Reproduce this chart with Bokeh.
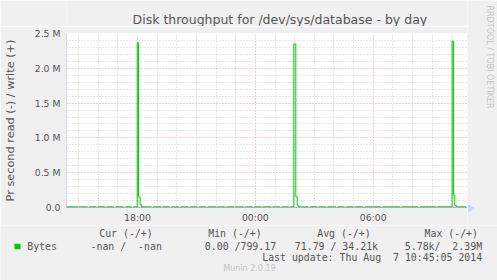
import math
from bokeh.plotting import figure
from bokeh.layouts import column, row
from bokeh.models import Range1d, FixedTicker
from bokeh.core.properties import value
from bokeh.embed import file_html
from bokeh.resources import INLINE

# ---- data (hours of day; values after 24 are next day) ----
title_text = "Disk throughput for /dev/sys/database - by day"
x_start, x_end = 14.385, 34.80
x_major = [18, 24, 30]
x_major_labels = ["18:00", "00:00", "06:00"]
x_minor = [15, 16, 17, 19, 20, 21, 22, 23, 25, 26, 27, 28, 29, 31, 32, 33, 34]
y_major = [0, 500000, 1000000, 1500000, 2000000, 2500000]
y_major_labels = ["0.0", "0.5 M", "1.0 M", "1.5 M", "2.0 M", "2.5 M"]
y_minor = [100000, 200000, 300000, 400000, 600000, 700000, 800000, 900000,
           1100000, 1200000, 1300000, 1400000, 1600000, 1700000, 1800000, 1900000,
           2100000, 2200000, 2300000, 2400000]

# write (+) series, step breakpoints: value holds until next time
write_t = [14.385, 14.95, 15.03, 15.45, 15.53, 15.90, 15.98, 16.35, 16.43, 16.80, 16.88,
           17.30, 17.38, 17.70, 17.78,
           17.985, 18.05, 18.13, 18.20,
           18.70, 18.78, 19.20, 19.28, 19.65, 19.73, 20.10, 20.18, 20.60, 20.68,
           21.05, 21.13, 21.50, 21.58, 22.00, 22.08, 22.45, 22.53, 22.90, 22.98,
           23.40, 23.48, 23.85, 23.93, 24.30, 24.38, 24.80, 24.88, 25.25, 25.33,
           25.70, 25.78,
           25.958, 26.06, 26.13, 26.20,
           26.70, 26.78, 27.15, 27.23, 27.60, 27.68, 28.10, 28.18, 28.55, 28.63,
           29.00, 29.08, 29.50, 29.58, 30.40, 30.48, 31.35, 31.43, 32.30, 32.38,
           33.20, 33.28,
           34.02, 34.09, 34.15, 34.23, 34.72]
write_v = [10e3, 0, 10e3, 0, 10e3, 0, 10e3, 0, 10e3, 0, 10e3,
           0, 10e3, 0, 10e3,
           2.367e6, 0.15e6, 0.04e6, 10e3,
           0, 10e3, 0, 10e3, 0, 10e3, 0, 10e3, 0, 10e3,
           0, 10e3, 0, 10e3, 0, 10e3, 0, 10e3, 0, 10e3,
           0, 10e3, 0, 10e3, 0, 10e3, 0, 10e3, 0, 10e3,
           0, 10e3,
           2.35e6, 0.153e6, 0.03e6, 10e3,
           0, 10e3, 0, 10e3, 0, 10e3, 0, 10e3, 0, 10e3,
           0, 10e3, 0, 10e3, 0, 10e3, 0, 10e3, 0, 10e3,
           0, 10e3,
           2.39e6, 0.176e6, 0.03e6, 10e3, 10e3]

# read (-) series, drawn negative (tiny, hidden under the zero axis)
read_t = [14.385, 18.00, 18.08, 34.72]
read_v = [0, 5780, 0, 0]

legend_name = "Bytes"
legend_headers = ["Cur (-/+)", "Min (-/+)", "Avg (-/+)", "Max (-/+)"]
legend_values = ["-nan /  -nan", "0.00 /799.17", "71.79 / 34.21k", "5.78k/  2.39M"]
last_update = "Last update: Thu Aug  7 10:45:05 2014"
footer = "Munin 2.0.19"
side_text = "RRDTOOL / TOBI OETIKER"
y_label = "Pr second read (-) / write (+)"

BG = "#F0F0F0"
TXT = "#555555"
FAINT = "#c4c4c4"
GREEN = "#00CC00"
AXIS_C = "#CFD6F8"
SANS = "DejaVu Sans"
MONO = "DejaVu Sans Mono"

W, H = 497, 280
TOP_H = 26          # title band height
MAIN_W = 467        # main figure width (frame right edge)
MID_BOTTOM = 225    # bottom edge of main figure (canvas y)
FL, FB = 66, 208    # frame left and bottom (canvas px)


def keep_spaces(s):
    # SVG collapses runs of spaces; keep the fixed-width look with no-break spaces
    return s.replace("  ", " \u00a0")


def text_fig(x0, x1, y0, y1):
    """A figure whose frame fills it, with data coords equal to canvas px."""
    f = figure(width=x1 - x0, height=y1 - y0, x_range=Range1d(x0, x1),
               y_range=Range1d(y1, y0), output_backend="svg", toolbar_location=None,
               x_axis_location=None, y_axis_location=None, min_border=0,
               background_fill_color=BG, border_fill_color=BG, outline_line_color=None)
    f.grid.visible = False
    return f


def put(f, txt, X, Y, size, font=SANS, color=TXT, align="left",
        baseline="middle", angle=0.0):
    f.text(x=[X], y=[Y], text=[keep_spaces(txt)], text_font=value(font),
           text_font_size=value(size), text_color=color, text_align=align,
           text_baseline=baseline, angle=angle)


# ---- top band: title ----
top = text_fig(0, MAIN_W, 0, TOP_H)
put(top, title_text, 248.5, 18.5, "12.5px", align="center", baseline="alphabetic")

# ---- main plot ----
p = figure(width=MAIN_W, height=MID_BOTTOM - TOP_H, x_range=Range1d(x_start, x_end),
           y_range=Range1d(0, 2.5e6), output_backend="svg", toolbar_location=None,
           min_border_left=FL, min_border_right=0, min_border_top=33 - TOP_H,
           min_border_bottom=MID_BOTTOM - FB, background_fill_color="white",
           border_fill_color=BG, outline_line_color=None)

p.xaxis.ticker = FixedTicker(ticks=x_major, minor_ticks=x_minor)
p.yaxis.ticker = FixedTicker(ticks=y_major, minor_ticks=y_minor)
p.xaxis.major_label_overrides = dict(zip(x_major, x_major_labels))
p.yaxis.major_label_overrides = dict(zip(y_major, y_major_labels))
for ax in (p.xaxis[0], p.yaxis[0]):
    ax.major_tick_in = 0
    ax.major_tick_out = 0
    ax.minor_tick_in = 0
    ax.minor_tick_out = 0
    ax.major_label_text_font = SANS
    ax.major_label_text_font_size = "9.3px"
    ax.major_label_text_color = TXT
p.xaxis.axis_line_color = "#b3a8c6"
p.yaxis.axis_line_color = AXIS_C
p.xaxis.major_label_standoff = 4
p.yaxis.major_label_standoff = 6
p.yaxis.axis_label = y_label
p.yaxis.axis_label_text_font = SANS
p.yaxis.axis_label_text_font_size = "11.3px"
p.yaxis.axis_label_text_font_style = "normal"
p.yaxis.axis_label_text_color = TXT
p.yaxis.axis_label_standoff = 15
for g in (p.xgrid[0], p.ygrid[0]):
    g.grid_line_color = "#eb9a9a"
    g.grid_line_dash = "1 2"
    g.grid_line_width = 1
    g.minor_grid_line_color = "#cccccc"
    g.minor_grid_line_dash = "1 2"
    g.minor_grid_line_width = 1

p.step(read_t, [-v for v in read_v], mode="after", line_color=GREEN, line_width=1)
p.step(write_t, write_v, mode="after", line_color=GREEN, line_width=1)

# ---- right strip: vertical credit + x-axis arrow head ----
strip = text_fig(MAIN_W, W, 0, MID_BOTTOM)
put(strip, side_text, 489, 5, "8px", color=FAINT, angle=-math.pi / 2)
strip.scatter(x=[470], y=[FB], marker="triangle", size=7, angle=-math.pi / 2,
              fill_color=AXIS_C, line_color=AXIS_C)

# ---- bottom band: legend ----
bot = text_fig(0, W, MID_BOTTOM, H)
for txt, X in zip(legend_headers, [98.7, 207.7, 316.7, 424]):
    put(bot, txt, X, 233.3, "9.9px", font=MONO)
bot.quad(left=[14], right=[20], top=[243.3], bottom=[248.7],
         fill_color=GREEN, line_color=None)
put(bot, legend_name, 26.7, 245.7, "9.9px", font=MONO)
for txt, X in zip(legend_values, [90, 204.3, 294.3, 404.3]):
    put(bot, txt, X, 245.7, "9.9px", font=MONO)
put(bot, last_update, 261.7, 257.3, "9.9px", font=MONO)
put(bot, footer, 249, 268.3, "8px", color=FAINT, align="center")

layout = column(row(column(top, p, spacing=0), strip, spacing=0), bot, spacing=0)
open("out.html", "w").write(file_html(layout, INLINE))
